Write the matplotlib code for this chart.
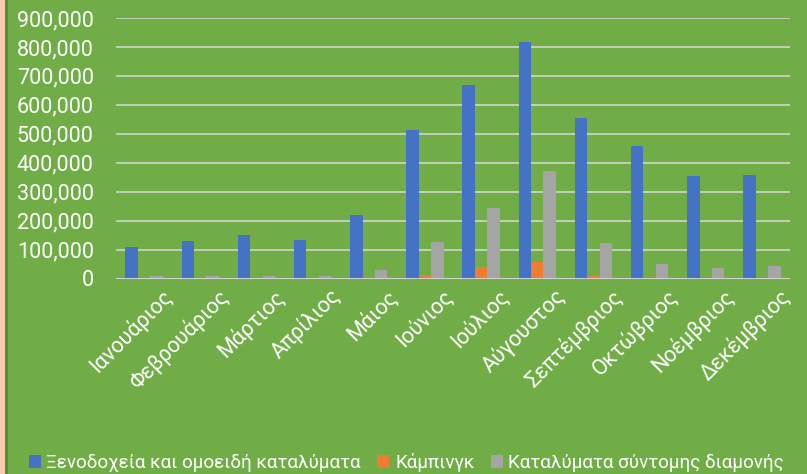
import matplotlib
matplotlib.use("Agg")
import matplotlib.pyplot as plt
import matplotlib.patches as mpatches
from matplotlib.ticker import FuncFormatter, MultipleLocator
from matplotlib.transforms import ScaledTranslation
import numpy as np

months = ["Ιανουάριος", "Φεβρουάριος", "Μάρτιος", "Απρίλιος", "Μάιος", "Ιούνιος",
          "Ιούλιος", "Αύγουστος", "Σεπτέμβριος", "Οκτώβριος", "Νοέμβριος", "Δεκέμβριος"]
hotels = [108000, 130000, 152000, 132000, 221000, 513000, 669000, 816000, 555000, 458000, 355000, 357000]
camping = [0, 0, 0, 0, 1000, 12000, 40000, 58000, 8000, 1000, 0, 0]
short_stay = [7000, 7000, 10000, 8000, 28000, 125000, 243000, 373000, 124000, 50000, 36000, 43000]
series_names = ["Ξενοδοχεία και ομοειδή καταλύματα", "Κάμπινγκ", "Καταλύματα σύντομης διαμονής"]
colors = ["#4472C4", "#ED7D31", "#A5A5A5"]

plt.rcParams['font.family'] = ['Roboto', 'DejaVu Sans']
BG = "#70AD47"

W, H = 807, 474
fig = plt.figure(figsize=(W / 100, H / 100), dpi=100, facecolor=BG)

# left decorative strip
fig.patches.append(mpatches.Rectangle((0, 0), 5 / W, 1, transform=fig.transFigure,
                                      facecolor="#F8CBAD", edgecolor="none", zorder=0))
fig.patches.append(mpatches.Rectangle((5 / W, 0), 2.5 / W, 1, transform=fig.transFigure,
                                      facecolor="#5B8C39", edgecolor="none", zorder=0))

left, right = 116 / W, 790 / W
bottom, top = 1 - 278.5 / H, 1 - 18 / H
ax = fig.add_axes([left, bottom, right - left, top - bottom])
ax.set_facecolor(BG)

x = np.arange(len(months))
bw = 0.222
for i, (vals, c) in enumerate(zip([hotels, camping, short_stay], colors)):
    ax.bar(x + (i - 1) * bw, vals, width=bw, color=c, label=series_names[i], zorder=3)

ax.set_xlim(-0.5, len(months) - 0.5)
ax.set_ylim(0, 900000)
ax.yaxis.set_major_locator(MultipleLocator(100000))
ax.yaxis.set_major_formatter(FuncFormatter(lambda v, p: f"{int(v):,}"))
ax.grid(axis='y', color="#D9D9D9", linewidth=1.1, zorder=0)
ax.set_axisbelow(True)
for s in ax.spines.values():
    s.set_visible(False)
ax.axhline(0, color="#D9D9D9", linewidth=1.3, zorder=4)

ax.tick_params(axis='y', length=0, pad=16, labelsize=15.5, labelcolor='white')
ax.tick_params(axis='x', length=0, pad=5, labelsize=15.5, labelcolor='white')
ax.set_xticks(x)
ax.set_xticklabels(months, rotation=45, ha='right', va='top', rotation_mode='anchor')

offset = ScaledTranslation(17 / 100, 0, fig.dpi_scale_trans)
for lbl in ax.get_xticklabels():
    lbl.set_transform(lbl.get_transform() + offset)

leg = fig.legend(loc='lower left', bbox_to_anchor=(21 / W, -0.012), ncol=3, frameon=False,
                 fontsize=13.6, labelcolor='white', handlelength=0.65, handleheight=0.65,
                 handletextpad=0.3, columnspacing=0.85, borderaxespad=0)

fig.savefig("out.png", dpi=100, facecolor=BG)
